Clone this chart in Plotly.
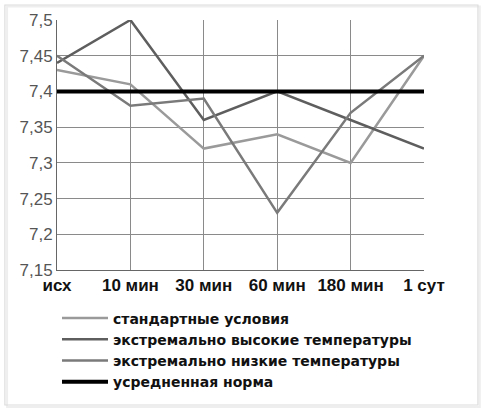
import plotly.graph_objects as go

# time points
categories = ["исх", "10 мин", "30 мин", "60 мин", "180 мин", "1 сут"]

# pH values
standard = [7.43, 7.41, 7.32, 7.34, 7.30, 7.45]
high_temp = [7.44, 7.50, 7.36, 7.40, 7.36, 7.32]
low_temp = [7.45, 7.38, 7.39, 7.23, 7.37, 7.45]
norm = [7.40, 7.40, 7.40, 7.40, 7.40, 7.40]

y_ticks = [7.15, 7.2, 7.25, 7.3, 7.35, 7.4, 7.45, 7.5]

series = [
    ("стандартные условия", standard, "#9a9a9a", 2.5),
    ("экстремально высокие температуры", high_temp, "#5e5e5e", 2.5),
    ("экстремально низкие температуры", low_temp, "#7a7a7a", 2.5),
    ("усредненная норма", norm, "#000000", 4),
]

fig = go.Figure()
for name, vals, color, w in series:
    fig.add_trace(go.Scatter(
        x=categories, y=vals, name=name, mode="lines",
        line=dict(color=color, width=w),
    ))

fig.update_layout(
    width=485, height=412,
    margin=dict(l=57, r=61, t=20, b=142),
    paper_bgcolor="white", plot_bgcolor="white",
    separators=", ",
    font=dict(family="Liberation Sans, Arial, sans-serif", color="black"),
    showlegend=True,
    legend=dict(
        x=0.0, xanchor="left", y=-0.13, yanchor="top",
        font=dict(family="DejaVu Sans", size=14, color="#111", weight="bold"),
        itemwidth=46, tracegroupgap=0,
        bgcolor="rgba(0,0,0,0)",
    ),
)

fig.update_xaxes(
    type="category", range=[0, 5],
    showgrid=True, gridcolor="#8a8a8a", gridwidth=1,
    showline=True, linecolor="#666", linewidth=1,
    tickfont=dict(size=17, color="#111", weight="bold"),
    ticks="", ticklen=0,
)
fig.update_yaxes(
    range=[7.15, 7.5], tickvals=y_ticks, tickformat=".2~f",
    showgrid=True, gridcolor="#8a8a8a", gridwidth=1,
    showline=True, linecolor="#666", linewidth=1,
    tickfont=dict(size=17, color="#555"),
    ticks="", zeroline=False,
)

# outer frame of the picture (soft shadow + border)
fig.add_shape(
    type="rect", xref="paper", yref="paper",
    x0=-0.136, x1=1.152, y0=-0.548, y1=1.054,
    line=dict(color="#eeeeee", width=2),
)
fig.add_shape(
    type="rect", xref="paper", yref="paper",
    x0=-0.142, x1=1.147, y0=-0.54, y1=1.06,
    line=dict(color="#dcdcdc", width=1.2),
)

fig.write_html(
    "out.html",
    config={"displayModeBar": False},
    post_script="document.body.style.margin='0';",
)
